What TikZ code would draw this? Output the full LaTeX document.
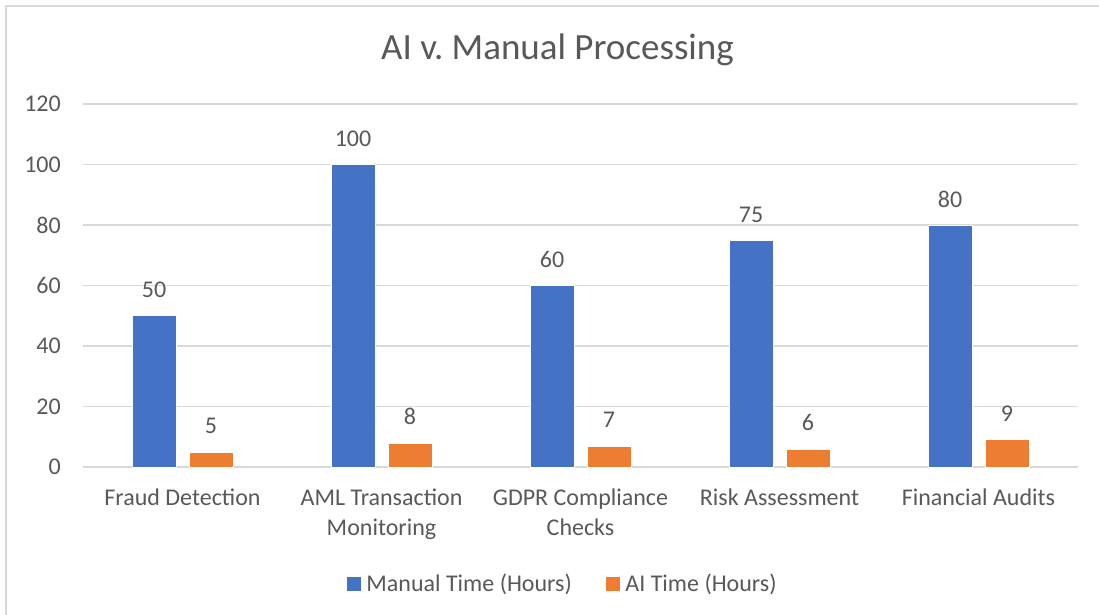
\documentclass[tikz,border=0pt]{standalone}
\usepackage{fontspec}
\setmainfont{Carlito}
\usepackage{tikz}
\usetikzlibrary{positioning}
\definecolor{manualblue}{HTML}{4472C4}
\definecolor{aiorange}{HTML}{ED7D31}
\definecolor{textgray}{HTML}{595959}
\definecolor{gridgray}{HTML}{D9D9D9}
\tikzset{
  gridline/.style={draw=gridgray,line width=1.3pt},
  frameline/.style={draw=gridgray,line width=1.8pt},
  manualbar/.style={fill=manualblue,draw=white,line width=0.6pt},
  aibar/.style={fill=aiorange,draw=white,line width=0.6pt},
  ticklabel/.style={anchor=east,inner sep=0pt,text=textgray,font=\fontsize{24}{29}\selectfont},
  valuelabel/.style={anchor=base,inner sep=0pt,text=textgray,font=\fontsize{24}{29}\selectfont},
  catlabel/.style={anchor=base,inner sep=0pt,align=center,text=textgray,font=\fontsize{24}{30}\selectfont},
  legendkey/.style={rectangle,minimum size=14pt,inner sep=0pt},
  legendtext/.style={anchor=west,inner sep=0pt,text=textgray,font=\fontsize{24}{29}\selectfont},
  charttitle/.style={anchor=base,inner sep=0pt,text=textgray,font=\fontsize{37}{44}\selectfont}
}

\begin{document}
\begin{tikzpicture}[x=1pt,y=1pt]
  \useasboundingbox (0,0) rectangle (1099,614);
  \fill[white] (0,0) rectangle (1099,614);
  \draw[frameline] (6.3,-2) -- (6.3,608.2) -- (1101,608.2);

  % title
  \node[charttitle] (title) at (557.5,554) {AI v.\ Manual Processing};

  % grid and y axis
  \foreach \v [count=\k from 0] in {0,20,40,60,80,100,120}{
    \draw[gridline] (83,147+60.5*\k) -- (1078,147+60.5*\k);
    \node[ticklabel] (tick\k) at (61,147+60.5*\k) {\v};
  }

  % bars: centre / manual / ai
  \foreach \cx/\m/\a [count=\i] in {182.5/50/5,381.5/100/8,580.5/60/7,779.5/75/6,978.5/80/9}{
    \draw[manualbar] (\cx-50.5,147) rectangle (\cx-6.5,{147+3.025*\m});
    \draw[aibar] (\cx+6.5,147) rectangle (\cx+50.5,{147+3.025*\a});
    \node[valuelabel] (man\i) at (\cx-28.5,{147+3.025*\m+18}) {\m};
    \node[valuelabel] (ai\i) at (\cx+28.5,{147+3.025*\a+18}) {\a};
  }

  % categories (base = last line)
  \node[catlabel] (fraud) at (182.5,109) {Fraud Detection};
  \node[catlabel] (aml) at (381.5,79) {AML Transaction\\ Monitoring};
  \node[catlabel] (gdpr) at (580.5,79) {GDPR Compliance\\ Checks};
  \node[catlabel] (risk) at (779.5,109) {Risk Assessment};
  \node[catlabel] (audit) at (978.5,109) {Financial Audits};

  % legend
  \node[legendkey,fill=manualblue] (keyman) at (354,30) {};
  \node[legendtext,right=5pt of keyman] (txtman) {Manual Time (Hours)};
  \node[legendkey,fill=aiorange] (keyai) at (613,30) {};
  \node[legendtext,right=5pt of keyai] (txtai) {AI Time (Hours)};
\end{tikzpicture}
\end{document}
